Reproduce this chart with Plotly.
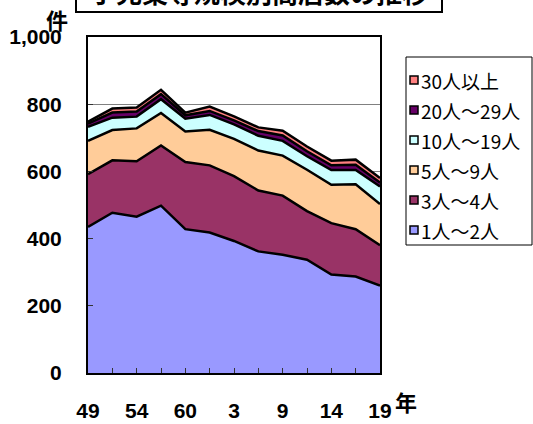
import plotly.graph_objects as go

years = ["49", "51", "54", "57", "60", "63", "3", "6", "9", "11", "14", "16", "19"]
year_labels = ["49", "", "54", "", "60", "", "3", "", "9", "", "14", "", "19"]

s_1_2 = [435, 477, 465, 498, 428, 418, 393, 362, 352, 337, 293, 287, 260]
s_3_4 = [157, 156, 165, 179, 200, 200, 193, 181, 176, 145, 153, 141, 120]
s_5_9 = [99, 90, 98, 97, 91, 106, 111, 119, 119, 123, 114, 134, 123]
s_10_19 = [42, 37, 35, 41, 38, 44, 43, 44, 44, 40, 44, 42, 52]
s_20_29 = [9, 15, 15, 15, 10, 12, 12, 14, 16, 15, 14, 16, 12]
s_30 = [6, 12, 12, 13, 8, 13, 12, 11, 14, 14, 14, 15, 13]

names = ["1人～2人", "3人～4人", "5人～9人", "10人～19人", "20人～29人", "30人以上"]
series = [s_1_2, s_3_4, s_5_9, s_10_19, s_20_29, s_30]
colors = ["#9999FF", "#993366", "#FFCC99", "#CCFFFF", "#660066", "#FF8080"]

y_ticks = [0, 200, 400, 600, 800, 1000]

title_text = "小売業等規模別商店数の推移"

W, H = 533, 424
L, R, T, B = 88, 153, 37, 51
PW = W - L - R
PH = H - T - B


def px_x(px):
    return (px - L) / PW


def px_y(py):
    return (H - B - py) / PH


fig = go.Figure()
for name, vals, col in zip(names, series, colors):
    fig.add_trace(go.Scatter(
        x=years, y=vals, name=name, mode="lines", stackgroup="one",
        line=dict(color="black", width=2.5), fillcolor=col,
        showlegend=False, hoverinfo="skip"))

shapes = []
annotations = []

# legend box
shapes.append(dict(type="rect", xref="paper", yref="paper",
                   x0=px_x(406), x1=px_x(532), y0=px_y(245), y1=px_y(57),
                   line=dict(color="black", width=1), fillcolor="white", layer="above"))
leg_y = [80, 110, 140, 170, 200, 230]
for i, (name, col) in enumerate(zip(names[::-1], colors[::-1])):
    cy = leg_y[i]
    shapes.append(dict(type="rect", xref="paper", yref="paper",
                       x0=px_x(410), x1=px_x(418), y0=px_y(cy + 4), y1=px_y(cy - 4),
                       line=dict(color="black", width=1.5), fillcolor=col, layer="above"))
    annotations.append(dict(xref="paper", yref="paper", x=px_x(419), y=px_y(cy),
                            xanchor="left", yanchor="middle", showarrow=False,
                            text=name, font=dict(family="Noto Sans CJK JP", size=19, color="black")))

# unit labels
annotations.append(dict(xref="paper", yref="paper", x=px_x(57), y=px_y(19),
                        xanchor="center", yanchor="middle", showarrow=False, text="件",
                        font=dict(family="Noto Sans CJK JP", size=22, color="black", weight="bold")))
annotations.append(dict(xref="paper", yref="paper", x=px_x(406), y=px_y(401),
                        xanchor="center", yanchor="middle", showarrow=False, text="年",
                        font=dict(family="Noto Sans CJK JP", size=22, color="black", weight="bold")))
# title box (cut off at top)
annotations.append(dict(xref="paper", yref="paper", x=px_x(259), y=px_y(13),
                        xanchor="center", yanchor="bottom", showarrow=False, text=title_text,
                        width=362, borderpad=1, bordercolor="black", borderwidth=2, bgcolor="white",
                        font=dict(family="Noto Sans CJK JP", size=26, color="black", weight="bold")))

fig.update_layout(
    width=W, height=H, margin=dict(l=L, r=R, t=T, b=B, pad=0, autoexpand=False),
    paper_bgcolor="white", plot_bgcolor="white", showlegend=False,
    shapes=shapes, annotations=annotations,
    xaxis=dict(type="category", range=[0, 12], categoryorder="array", categoryarray=years,
               tickvals=years, ticktext=year_labels, ticks="inside", ticklen=5,
               tickcolor="#333", showgrid=False, showline=True, mirror=True,
               linecolor="black", linewidth=2, ticklabelstandoff=18, automargin=False,
               tickfont=dict(family="Liberation Sans", size=21, color="black", weight="bold")),
    yaxis=dict(range=[0, 1000], tickvals=y_ticks, tickformat=",d", ticks="inside", ticklen=5,
               tickcolor="#333", showgrid=True, gridcolor="#808080", gridwidth=1,
               showline=True, mirror=True, linecolor="black", linewidth=2, zeroline=False,
               ticklabelstandoff=20, automargin=False,
               tickfont=dict(family="Liberation Sans", size=21, color="black", weight="bold")),
)

fig.write_html("out.html", config={"displayModeBar": False, "staticPlot": True},
               post_script="document.body.style.margin='0';document.body.style.padding='0';")
